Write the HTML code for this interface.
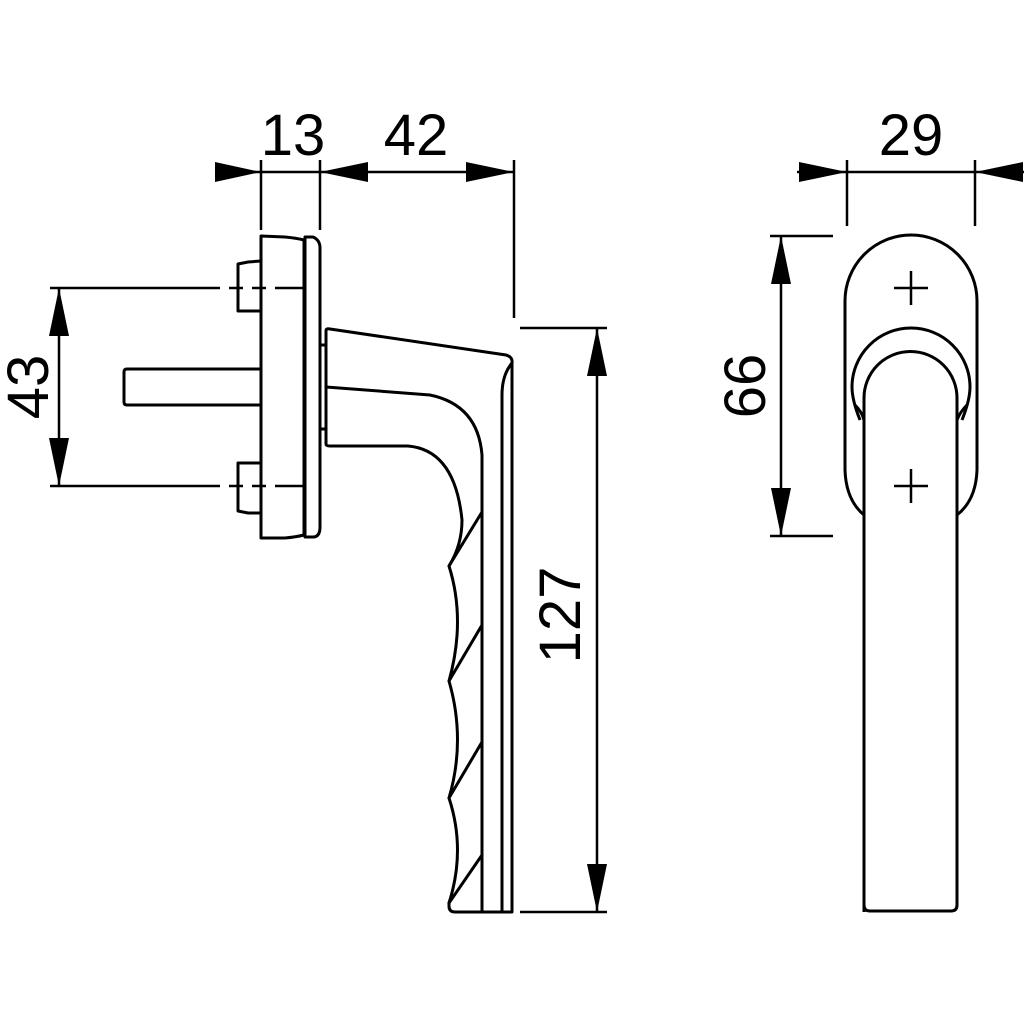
<!DOCTYPE html>
<html><head><meta charset="utf-8"><style>html,body{margin:0;padding:0;background:#fff}svg{display:block}</style></head>
<body>
<svg width="1024" height="1024" viewBox="0 0 1024 1024" xmlns="http://www.w3.org/2000/svg">
<g fill="none" stroke="#000" stroke-width="3" stroke-linejoin="round" stroke-linecap="round">
<!-- side view: rose -->
<path d="M261,236 L285,237 Q296,238 304,240 L304,535 Q296,537 285,538 L261,538 Z"/>
<path d="M305,237 L313,237 Q320,240 320,248 L320,527 Q320,537 313,537 L305,537 Z"/>
<!-- bolts -->
<path d="M261,261 L248,262 L238,264 L238,311 L261,311"/>
<path d="M261,463 L238,463 L238,511 L248,513 L261,513"/>
<!-- spindle -->
<path d="M261,369 L127,369 Q124,369 124,372 L124,402 Q124,405 127,405 L261,405"/>
<!-- neck -->
<rect x="320" y="345" width="6" height="84"/>
<!-- handle -->
<path d="M326,331 Q326,328 330,329 L506,355 Q513,357 512,363 L512,912 L455,912 Q449,912 449,906 L449,903"/>
<path d="M326,331 L326,444 Q326,446 330,446 L408,446 Q455,450 462,520 Q462,545 449,566 Q466,620 449,681 Q466,740 449,798 Q466,850 449,903"/>
<path d="M326,387 L430,395 Q478,405 482,455 L482,912"/>
<path d="M512,363 Q502,375 502,395 L502,912"/>
<path d="M449,566 L482,512 M449,681 L482,625 M449,798 L482,742 M449,903 L482,855"/>
</g>
<!-- dashed center lines -->
<g stroke="#000" stroke-width="2.5" stroke-dasharray="160,8,15,8,15,8,40,100">
</g>
<g stroke="#000" stroke-width="2.5">
<path d="M50,288 L220,288 M229,288 L243,288 M252,288 L266,288 M275,288 L303,288"/>
<path d="M50,486 L220,486 M229,486 L243,486 M252,486 L266,486 M275,486 L303,486"/>
<!-- dims top -->
<path d="M261,160 L261,230 M320,160 L320,230 M514,160 L514,318"/>
<path d="M215,172 L514,172"/>
<path d="M520,328 L607,328 M520,912 L607,912 M597,328 L597,912"/>
<path d="M59,288 L59,486"/>
<!-- right dims -->
<path d="M847,160 L847,226 M975,160 L975,226 M797,172 L1024,172"/>
<path d="M770,236 L833,236 M770,536 L833,536 M781,236 L781,536"/>
</g>
<g fill="#000">
<polygon points="261,172 215,162 215,182"/>
<polygon points="320,172 368,162 368,182"/>
<polygon points="514,172 466,162 466,182"/>
<polygon points="597,328 587,376 607,376"/>
<polygon points="597,912 587,864 607,864"/>
<polygon points="59,288 49,336 69,336"/>
<polygon points="59,486 49,438 69,438"/>
<polygon points="847,172 799,162 799,182"/>
<polygon points="975,172 1023,162 1023,182"/>
<polygon points="781,236 771,284 791,284"/>
<polygon points="781,536 771,488 791,488"/>
</g>
<!-- front view -->
<g fill="none" stroke="#000" stroke-width="3" stroke-linejoin="round">
<path d="M864,515 Q846,500 845,470 L845,301 A66,66 0 0 1 977,301 L977,470 Q976,500 957,515"/>
<path d="M860,420 Q852,400 852,387 A59,59 0 0 1 970,387 Q970,400 962,420"/>
<path d="M855,405 Q862,412 864,420 M967,405 Q960,412 957,420"/>
<path d="M864,912 L864,398 A46.5,46.5 0 0 1 957,398 L957,905 Q957,911 951,911 L870,911 Q864,911 864,905"/>
</g>
<g stroke="#000" stroke-width="2.5">
<path d="M894,288 L928,288 M911,271 L911,305"/>
<path d="M894,486 L928,486 M911,469 L911,503"/>
</g>
<g font-family="Liberation Sans, sans-serif" font-size="58" fill="#000" text-anchor="middle">
<text x="293" y="155">13</text>
<text x="416" y="155">42</text>
<text x="911" y="155">29</text>
<text transform="translate(48,387) rotate(-90)">43</text>
<text transform="translate(580,615) rotate(-90)">127</text>
<text transform="translate(765,386) rotate(-90)">66</text>
</g>
</svg>
</body></html>
